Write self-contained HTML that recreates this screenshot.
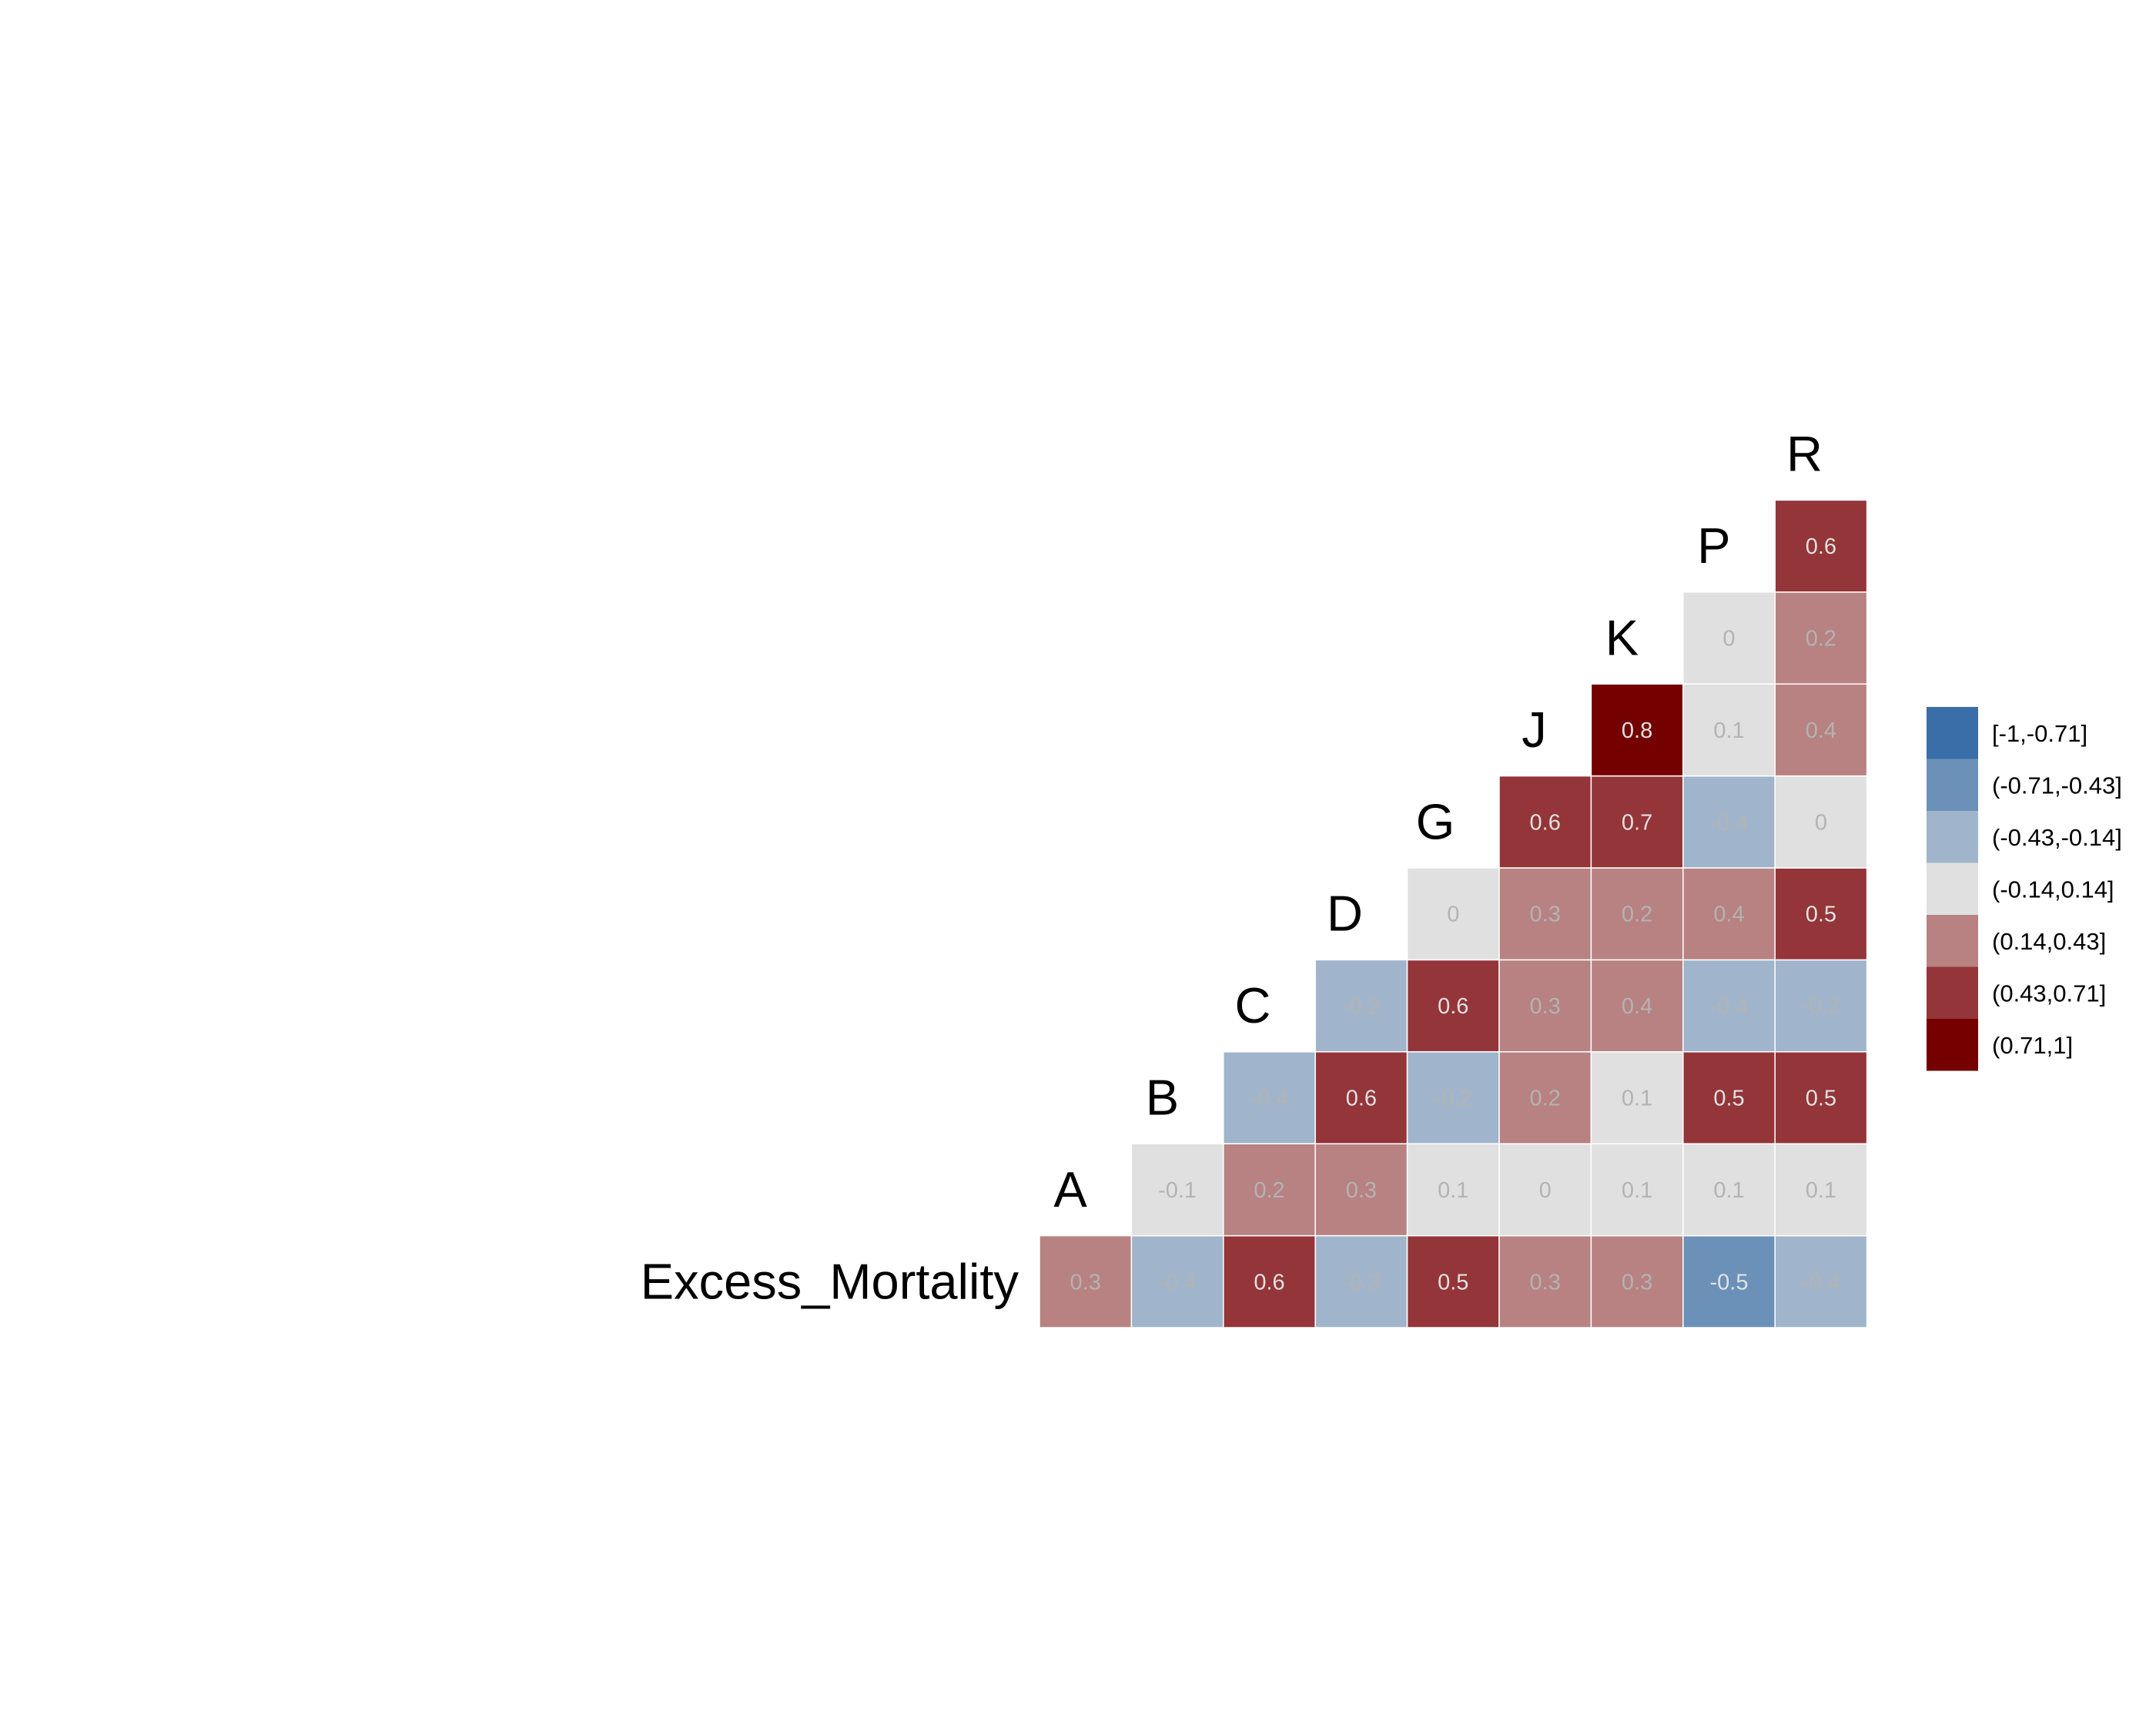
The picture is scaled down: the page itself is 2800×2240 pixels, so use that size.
<!DOCTYPE html>
<html><head><meta charset="utf-8"><style>
html,body{margin:0;padding:0;background:#fff;}
svg{display:block;font-family:"Liberation Sans",Arial,sans-serif;}
</style></head><body>
<svg id="chart" width="2800" height="2240" viewBox="0 0 2800 2240" xmlns="http://www.w3.org/2000/svg">
<g id="cells"></g>
<g id="labels"></g>
<g id="legend"></g>
</svg>
<script>
const variables = ["Excess_Mortality","A","B","C","D","G","J","K","P","R"];
const row0 = [0.3,-0.4,0.6,-0.3,0.5,0.3,0.3,-0.5,-0.4];
const row1 = [-0.1,0.2,0.3,0.1,0,0.1,0.1,0.1];
const row2 = [-0.4,0.6,-0.2,0.2,0.1,0.5,0.5];
const row3 = [-0.2,0.6,0.3,0.4,-0.4,-0.2];
const row4 = [0,0.3,0.2,0.4,0.5];
const row5 = [0.6,0.7,-0.4,0];
const row6 = [0.8,0.1,0.4];
const row7 = [0,0.2];
const row8 = [0.6];
const rows = [row0,row1,row2,row3,row4,row5,row6,row7,row8];
const legendLabels = ["[-1,-0.71]","(-0.71,-0.43]","(-0.43,-0.14]","(-0.14,0.14]","(0.14,0.43]","(0.43,0.71]","(0.71,1]"];
const binEdges = [-0.71,-0.43,-0.14,0.14,0.43,0.71];
const binColors = ["#3a6ea8","#6b91b9","#a0b5cb","#e0e0e0","#b88282","#943539","#750000"];

const NS="http://www.w3.org/2000/svg";
const X0=1350, CELL=119.4, YB=1724;
const xPos = c => X0 + c*CELL;
const yPos = r => YB - (r+1)*CELL;
function bin(v){let i=0;while(i<binEdges.length && v>binEdges[i]) i++;return i;}
function mk(tag,attrs,parent){const e=document.createElementNS(NS,tag);for(const k in attrs)e.setAttribute(k,attrs[k]);parent.appendChild(e);return e;}

const gc=document.getElementById('cells');
rows.forEach((vals,r)=>{
  vals.forEach((v,j)=>{
    const c=r+j;
    const b=bin(v);
    const rect=mk('rect',{x:xPos(c),y:yPos(r),width:CELL,height:CELL,fill:binColors[b],stroke:"#ffffff","stroke-width":1.5},gc);
    
    
    const t=mk('text',{x:xPos(c)+CELL/2,y:yPos(r)+CELL/2+10,"text-anchor":"middle","font-size":29,fill:(b===0||b===1||b>=5)?"#e2e2e2":"#b3b3b3"},gc);
    t.textContent=String(v);
    
    
  });
});

const gl=document.getElementById('labels');
variables.forEach((name,i)=>{
  let x,y=yPos(i)+CELL/2+22;
  if(i===0){x=1323;} else {x=xPos(i-1)+CELL/2+2;}
  const t=mk('text',{x:x,y:y,"text-anchor":"end","font-size":65,fill:"#000"},gl);
  t.textContent=name;
  
  
});

const gg=document.getElementById('legend');
legendLabels.forEach((lab,i)=>{
  const y=918+i*67.5;
  const r=mk('rect',{x:2502,y:y,width:67,height:67.5,fill:binColors[i]},gg);
  
  
  const t=mk('text',{x:2587,y:y+45,"font-size":31,fill:"#000"},gg);
  t.textContent=lab;
  
  
});
</script>
</body></html>
